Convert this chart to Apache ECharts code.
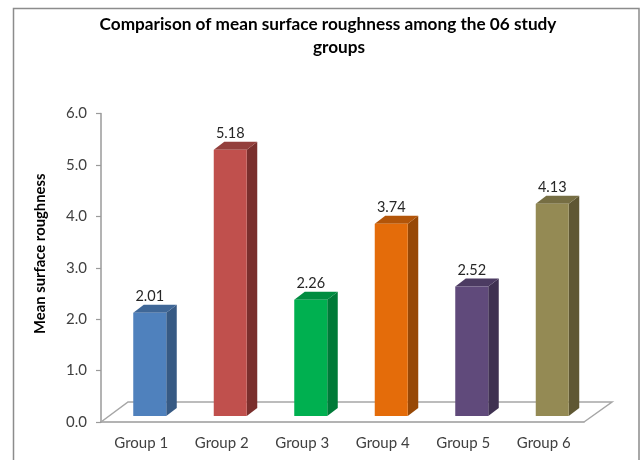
<!DOCTYPE html>
<html><head><meta charset="utf-8">
<style>html,body{margin:0;padding:0;background:#fff}#c{width:641px;height:460px}</style>
<script src="https://cdn.jsdelivr.net/npm/echarts@6/dist/echarts.min.js"></script>
</head><body><div id="c"></div>
<script>
const categories = ['Group 1','Group 2','Group 3','Group 4','Group 5','Group 6'];
const values = [2.01,5.18,2.26,3.74,2.52,4.13];
const yTicks = {min:0,max:6,interval:1};
const titleLines = ['Comparison of mean surface roughness among the 06 study','groups'];
const frontColors = ['#4F81BD','#C0504D','#00B050','#E46C0A','#604A7B','#948A54'];
const sideColors  = ['#375A84','#7A2F2D','#007A38','#974806','#3F3151','#5F5733'];
const topColors   = ['#3F6797','#933F3C','#008C40','#B35509','#4C3B62','#766E43'];
const chart = echarts.init(document.getElementById('c'),null,{renderer:'canvas'});
const FONT='Lato';
const BW=33, DX=10.5, DY=8, BASE=6, SHIFT=8.5;
function poly(points,fill,z){return {type:'polygon',shape:{points},style:{fill,stroke:null},z2:z||1};}
const titleStyle={fontFamily:FONT,fontWeight:'bold',fontSize:17.2,color:'#000',lineHeight:22};
chart.setOption({
  animation:false,
  backgroundColor:'#fff',
  title:[
    {text:titleLines[0],left:328,top:13,padding:0,textAlign:'center',textStyle:titleStyle},
    {text:titleLines[1],left:339,top:36,padding:0,textAlign:'center',textStyle:titleStyle}
  ],
  grid:{left:101,right:57,top:113.5,bottom:38,containLabel:false},
  xAxis:{type:'category',data:categories,
    axisLine:{lineStyle:{color:'#9a9a9a',width:1.5}},
    axisTick:{length:5,alignWithLabel:false,lineStyle:{color:'#9a9a9a',width:1.2}},
    axisLabel:{fontFamily:FONT,fontSize:15,color:'#404040',margin:14},splitLine:{show:false}},
  yAxis:{type:'value',min:yTicks.min,max:yTicks.max,interval:yTicks.interval,
    name:'Mean surface roughness',nameLocation:'middle',nameGap:53,
    nameTextStyle:{fontFamily:FONT,fontWeight:'bold',fontSize:14.8,color:'#000',padding:[0,0,0,28]},
    axisLine:{show:true,lineStyle:{color:'#9a9a9a',width:1.5}},
    axisTick:{show:true,length:5,lineStyle:{color:'#9a9a9a',width:1.2}},
    axisLabel:{fontFamily:FONT,fontSize:15,color:'#404040',margin:14,padding:[3,0,0,0],formatter:v=>v.toFixed(1)},
    splitLine:{show:false}},
  series:[
    {type:'custom',silent:true,coordinateSystem:'cartesian2d',z:1,data:[0],
     renderItem(p,api){
       const x0=p.coordSys.x, x1=x0+p.coordSys.width, y=p.coordSys.y+p.coordSys.height;
       const s={stroke:'#a6a6a6',lineWidth:1.5,fill:null};
       return {type:'polyline',shape:{points:[[x0,y],[x0+27,y-20],[x1+28,y-20],[x1,y]]},style:s};
     }},
    {type:'custom',coordinateSystem:'cartesian2d',z:3,encode:{x:0,y:1},
     data:values.map((v,i)=>[i,v]),
     renderItem(p,api){
       const i=api.value(0), top=api.coord([i,api.value(1)]), bot=api.coord([i,0]);
       const l=top[0]+SHIFT-BW/2, r=l+BW, t=top[1]-BASE, b=bot[1]-BASE;
       return {type:'group',children:[
         poly([[r,t],[r+DX,t-DY],[r+DX,b-DY],[r,b]],sideColors[i]),
         poly([[l,t],[l+DX,t-DY],[r+DX,t-DY],[r,t]],topColors[i]),
         poly([[l,t],[r,t],[r,b],[l,b]],frontColors[i]),
         {type:'text',style:{text:api.value(1).toFixed(2),x:l+BW/2,y:t-DY-1,align:'center',verticalAlign:'bottom',
           font:'14.5px '+FONT,fill:'#262626'},z2:5}
       ]};
     }}
  ],
  graphic:[{type:'polyline',silent:true,shape:{points:[[13.5,460],[13.5,8.5],[639,8.5],[639,460]]},
    style:{stroke:'#8c8c8c',lineWidth:1.5,fill:null}}]
});
</script></body></html>
